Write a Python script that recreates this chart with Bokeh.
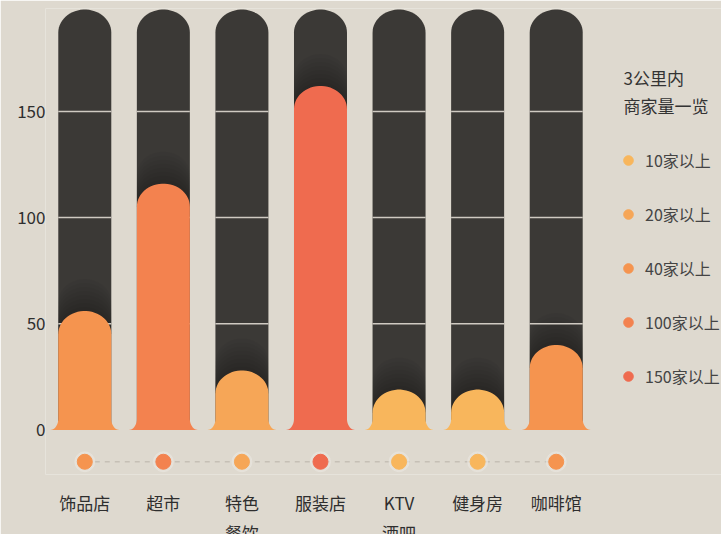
import numpy as np
from bokeh.plotting import figure
from bokeh.models import FixedTicker, Legend, LegendItem, Label
from bokeh.embed import file_html
from bokeh.resources import INLINE

# ---------------- data ----------------
categories = ["饰品店", "超市", "特色\n餐饮", "服装店", "KTV\n酒吧", "健身房", "咖啡馆"]
counts = [56, 116, 28, 162, 19, 19, 40]
track_max = 198
y_ticks = [0, 50, 100, 150]
level_labels = ["10家以上", "20家以上", "40家以上", "100家以上", "150家以上"]
level_mins = [10, 20, 40, 100, 150]
level_colors = ["#F8B65C", "#F6A657", "#F5944F", "#F3824F", "#EF6B4F"]
legend_title = ["3公里内", "商家量一览"]

# ---------------- style / layout ----------------
BG = "#DED9CF"
TRACK = "#3B3936"
FONT = "Noto Sans CJK SC"
BORDER_L, BORDER_T = 45, 8
FRAME_W, FRAME_H = 676, 466
SLOT_PX = 78.57
X0 = -0.5
X1 = X0 + FRAME_W / SLOT_PX
Y0, Y1 = -21, 198.5
PX_X = SLOT_PX
PX_Y = FRAME_H / (Y1 - Y0)
HALF_W = 26.5 / PX_X
DOME = 23 / PX_Y
FLARE_W = 8 / PX_X
FLARE_H = 11 / PX_Y
DOT_Y = -15


def level_index(v):
    idx = 0
    for i, m in enumerate(level_mins):
        if v >= m:
            idx = i
    return idx


def bar_outline(c, top, flare=True, n=30):
    xs, ys = [], []
    shoulder = top - DOME
    if flare:
        for t in np.linspace(0, np.pi / 2, 12):
            xs.append(c - HALF_W - FLARE_W + FLARE_W * np.sin(t))
            ys.append(FLARE_H - FLARE_H * np.cos(t))
    else:
        xs.append(c - HALF_W)
        ys.append(0)
    for t in np.linspace(np.pi, 0, n):
        xs.append(c + HALF_W * np.cos(t))
        ys.append(shoulder + DOME * np.sin(t))
    if flare:
        for t in np.linspace(np.pi / 2, 0, 12):
            xs.append(c + HALF_W + FLARE_W - FLARE_W * np.sin(t))
            ys.append(FLARE_H - FLARE_H * np.cos(t))
    else:
        xs.append(c + HALF_W)
        ys.append(0)
    return xs, ys


def shadow_outline(c, top, raise_px, n=30):
    base = top - DOME
    r = raise_px / PX_Y
    xs = [c - HALF_W]
    ys = [base]
    for t in np.linspace(np.pi, 0, n):
        xs.append(c + HALF_W * np.cos(t))
        ys.append(base + r + DOME * np.sin(t))
    xs.append(c + HALF_W)
    ys.append(base)
    return xs, ys


centers = list(range(len(categories)))
levels = [level_index(v) for v in counts]
colors = [level_colors[i] for i in levels]

p = figure(x_range=(X0, X1), y_range=(Y0, Y1),
           frame_width=FRAME_W, frame_height=FRAME_H,
           min_border_left=BORDER_L, min_border_right=0,
           min_border_top=BORDER_T, min_border_bottom=0,
           output_backend="svg", toolbar_location=None,
           background_fill_color=BG, border_fill_color=BG)
p.outline_line_color = None
p.xgrid.visible = False
p.ygrid.visible = False

# tracks
txs, tys = zip(*[bar_outline(c, track_max, flare=False) for c in centers])
p.patches(xs=list(txs), ys=list(tys), fill_color=TRACK, line_color=None)

# shadow above each value dome
for k in range(1, 9):
    sxs, sys_ = zip(*[shadow_outline(c, v, 4 * k) for c, v in zip(centers, counts)])
    p.patches(xs=list(sxs), ys=list(sys_), fill_color="black", fill_alpha=0.035,
              line_color=None)

# grid lines on the tracks
gx0, gx1, gy = [], [], []
for t in y_ticks:
    if t <= 0:
        continue
    for c in centers:
        gx0.append(c - HALF_W)
        gx1.append(c + HALF_W)
        gy.append(t)
p.segment(x0=gx0, x1=gx1, y0=gy, y1=gy, line_color="#CFCAC2", line_width=1.5)

# value bars
vxs, vys = zip(*[bar_outline(c, v) for c, v in zip(centers, counts)])
p.patches(xs=list(vxs), ys=list(vys), fill_color=colors, line_color=None)

# dots row
p.line(x=centers, y=[DOT_Y] * len(centers), line_color="#C6C0B6", line_width=1.5,
       line_dash="5 5")
p.scatter(x=centers, y=[DOT_Y] * len(centers), size=20, color="#EAE6DF", alpha=0.6)
items = []
for li, (lab, col) in enumerate(zip(level_labels, level_colors)):
    xs_l = [c for c, lv in zip(centers, levels) if lv == li]
    r = p.scatter(x=xs_l, y=[DOT_Y] * len(xs_l), size=15, color=col)
    items.append(LegendItem(label=lab, renderers=[r]))

# axes
p.yaxis.ticker = FixedTicker(ticks=y_ticks)
p.yaxis.axis_line_color = None
p.yaxis.major_tick_line_color = None
p.yaxis.minor_tick_line_color = None
p.yaxis.major_tick_out = 0
p.yaxis.major_tick_in = 0
p.yaxis.major_label_standoff = 0
p.yaxis.major_label_text_font = FONT
p.yaxis.major_label_text_font_size = "17px"
p.yaxis.major_label_text_color = "#2E2E2E"

p.xaxis.ticker = FixedTicker(ticks=centers)
p.xaxis.major_label_overrides = {c: name for c, name in zip(centers, categories)}
p.xaxis.axis_line_color = None
p.xaxis.major_tick_line_color = None
p.xaxis.minor_tick_line_color = None
p.xaxis.major_tick_out = 0
p.xaxis.major_tick_in = 0
p.xaxis.major_label_standoff = 15
p.xaxis.major_label_text_font = FONT
p.xaxis.major_label_text_font_size = "17px"
p.xaxis.major_label_text_line_height = 1.2
p.xaxis.major_label_text_color = "#2E2E2E"

# legend (inside the wide frame, right of the bars)
legend = Legend(items=items, location=(571, 86), padding=0, margin=0,
                spacing=30, label_height=24, glyph_height=24, glyph_width=24,
                label_standoff=5, label_text_font=FONT,
                label_text_font_size="16px", label_text_color="#444444",
                label_text_baseline="middle",
                background_fill_alpha=0, border_line_alpha=0)
p.add_layout(legend)

for txt, yy in zip(legend_title, [397, 369]):
    p.add_layout(Label(x=578, y=yy, x_units="screen", y_units="screen", text=txt,
                       text_font=FONT, text_font_size="17px", text_color="#333333",
                       text_baseline="middle"))

open("out.html", "w").write(file_html(p, INLINE))
